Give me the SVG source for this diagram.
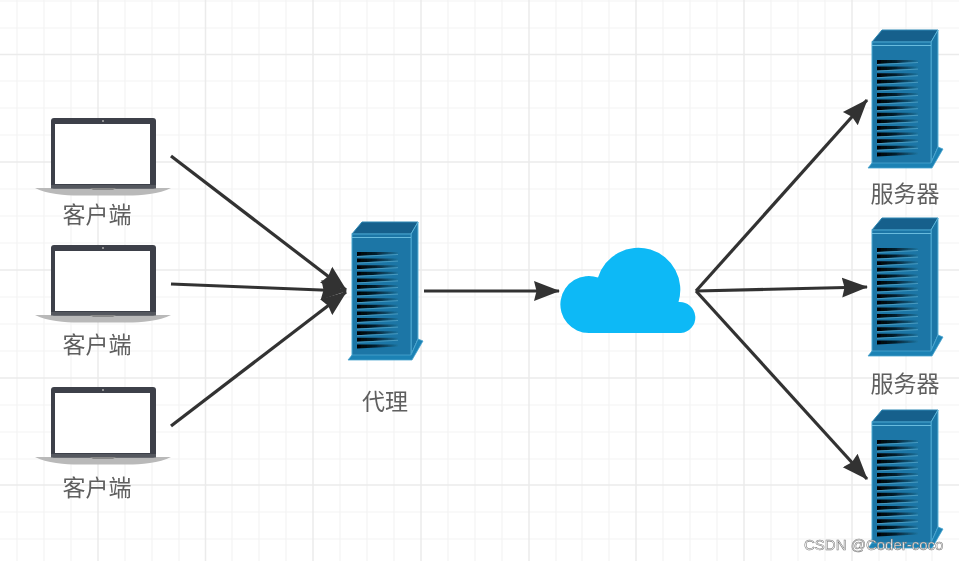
<svg xmlns="http://www.w3.org/2000/svg" xmlns:xlink="http://www.w3.org/1999/xlink" width="959" height="561" viewBox="0 0 959 561">
<style>
.minor{stroke:#f4f4f4;stroke-width:1.2;fill:none}
.major{stroke:#ebebeb;stroke-width:1.5;fill:none}
.edge{stroke:#333;stroke-width:3.2;fill:none;marker-end:url(#head)}
.lbl{font-family:"Noto Sans CJK SC","Liberation Sans",sans-serif;font-size:23px;fill:#5f5f5f;text-anchor:middle}
.wm{font-family:"Liberation Sans",Arial,sans-serif;font-size:15px;fill:#fff;stroke:#777;stroke-width:.55}
.slot{fill:url(#slotfill)}
.slotline{stroke:#4d9dc2;stroke-width:.9}
</style>
<defs>
<filter id="soft" x="-2%" y="-2%" width="104%" height="104%"><feGaussianBlur stdDeviation="0.6"/></filter>
<linearGradient id="slotfill" x1="0" x2="1" y1="0" y2="0"><stop offset="0" stop-color="#000"/><stop offset=".45" stop-color="#05202f"/><stop offset="1" stop-color="#1c74a0"/></linearGradient>
<marker id="head" markerUnits="userSpaceOnUse" viewBox="0 0 26 22" refX="25" refY="11" markerWidth="26" markerHeight="22" orient="auto"><path d="M0,1 L26,11 L0,21 L2.500,11 Z" fill="#333"/></marker>
<g id="srv">
<path d="M4,13 L14,1 L70,1 L63,13 Z" fill="#14618c" stroke="#2c86b3" stroke-width="1"/>
<path d="M63,13 L70,1 L70,118 L63,134 Z" fill="#1b76a6" stroke="#5fb5d9" stroke-width="1"/>
<rect x="4" y="13" width="59" height="122" fill="#1b76a6" stroke="#4aa5cf" stroke-width="1"/>
<path d="M4,16.500 H63" stroke="#67bbdd" stroke-width="1.2"/>
<path d="M0,139 L4,134 H63 L70,118 L75,120 L64,139 Z" fill="#1e82b4" stroke="#4aa5cf" stroke-width=".8"/>
<g>
<path class="slot" d="M9,31 H50 V33 L9,35 Z"/><path class="slotline" d="M9,35.500 L50,33.500"/>
<path class="slot" d="M9,37.600 H50 V39.600 L9,41.600 Z"/><path class="slotline" d="M9,42.100 L50,40.100"/>
<path class="slot" d="M9,44.200 H50 V46.200 L9,48.200 Z"/><path class="slotline" d="M9,48.700 L50,46.700"/>
<path class="slot" d="M9,50.800 H50 V52.800 L9,54.800 Z"/><path class="slotline" d="M9,55.300 L50,53.300"/>
<path class="slot" d="M9,57.400 H50 V59.400 L9,61.400 Z"/><path class="slotline" d="M9,61.900 L50,59.900"/>
<path class="slot" d="M9,64 H50 V66 L9,68 Z"/><path class="slotline" d="M9,68.500 L50,66.500"/>
<path class="slot" d="M9,70.600 H50 V72.600 L9,74.600 Z"/><path class="slotline" d="M9,75.100 L50,73.100"/>
<path class="slot" d="M9,77.200 H50 V79.200 L9,81.200 Z"/><path class="slotline" d="M9,81.700 L50,79.700"/>
<path class="slot" d="M9,83.800 H50 V85.800 L9,87.800 Z"/><path class="slotline" d="M9,88.300 L50,86.300"/>
<path class="slot" d="M9,90.400 H50 V92.400 L9,94.400 Z"/><path class="slotline" d="M9,94.900 L50,92.900"/>
<path class="slot" d="M9,97 H50 V99 L9,101 Z"/><path class="slotline" d="M9,101.500 L50,99.500"/>
<path class="slot" d="M9,103.600 H50 V105.600 L9,107.600 Z"/><path class="slotline" d="M9,108.100 L50,106.100"/>
<path class="slot" d="M9,110.200 H50 V112.200 L9,114.200 Z"/><path class="slotline" d="M9,114.700 L50,112.700"/>
<path class="slot" d="M9,116.800 H50 V118.800 L9,120.800 Z"/><path class="slotline" d="M9,121.300 L50,119.300"/>
<path class="slot" d="M9,123.400 H50 V125.400 L9,127.400 Z"/>
</g>
</g>
<g id="lap">
<path d="M35,188 H171 C160,194 140,195.500 128,195.500 H78 C66,195.500 46,194 35,188 Z" fill="#b9b9b9"/>
<rect x="51" y="118" width="105" height="70.500" rx="3" fill="#3d4048"/>
<rect x="55" y="124" width="95" height="60" fill="#fff"/>
<circle cx="103" cy="121" r="1" fill="#aaa"/>
<rect x="51" y="185" width="105" height="3.500" fill="#55585f"/>
<path d="M90,188 H116 L113,190 H93 Z" fill="#888"/>
</g>
</defs>
<rect width="959" height="561" fill="#fff"/>
<g filter="url(#soft)">
<g id="grid">
<path class="minor" d="M17,0V561M44,0V561M71,0V561M125,0V561M152,0V561M179,0V561M232,0V561M259,0V561M286,0V561M340,0V561M367,0V561M394,0V561M448,0V561M475,0V561M502,0V561M556,0V561M582,0V561M609,0V561M663,0V561M690,0V561M717,0V561M771,0V561M798,0V561M825,0V561M879,0V561M906,0V561M932,0V561"/>
<path class="minor" d="M0,1H959M0,28H959M0,81H959M0,108H959M0,135H959M0,189H959M0,216H959M0,243H959M0,297H959M0,324H959M0,351H959M0,405H959M0,432H959M0,459H959M0,512H959M0,539H959"/>
<path class="major" d="M98,0V561M205.500,0V561M313,0V561M421,0V561M529,0V561M636,0V561M744,0V561M852,0V561"/>
<path class="major" d="M0,54.500H959M0,162H959M0,270H959M0,378H959M0,485H959"/>
</g>
<g id="connectors">
<path class="edge" d="M171,156 L346,290"/>
<path class="edge" d="M171,284 L346,291"/>
<path class="edge" d="M171,426 L346,292"/>
<path class="edge" d="M424,291 H559"/>
<path class="edge" d="M696,291 L867,100"/>
<path class="edge" d="M696,291 L867,287"/>
<path class="edge" d="M696,291 L867,479"/>
</g>
<g id="client1"><use href="#lap"/><text class="lbl" x="97" y="223">客户端</text></g>
<g id="client2"><use href="#lap" y="127"/><text class="lbl" x="97" y="353">客户端</text></g>
<g id="client3"><use href="#lap" y="269"/><text class="lbl" x="97" y="496">客户端</text></g>
<g id="proxy"><use href="#srv" x="348" y="221"/><text class="lbl" x="385" y="410">代理</text></g>
<g id="cloud"><path d="M589,333 A28.500,28.500 0 1 1 598,277.500 A42,42 0 0 1 678.500,302 A15.500,15.500 0 0 1 681,333 Z" fill="#0ab9f6"/></g>
<g id="server1"><use href="#srv" x="868" y="29"/><text class="lbl" x="905" y="202">服务器</text></g>
<g id="server2"><use href="#srv" x="868" y="217"/><text class="lbl" x="905" y="392">服务器</text></g>
<g id="server3"><use href="#srv" x="868" y="409"/></g>
<text class="wm" x="804" y="550">CSDN @Coder-coco</text>
</g>
</svg>
